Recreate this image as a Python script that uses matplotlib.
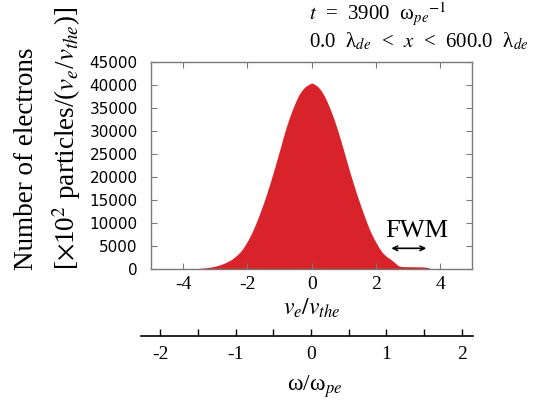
import matplotlib
matplotlib.use("Agg")
from matplotlib import pyplot as plt

plt.rcParams['mathtext.fontset'] = 'stix'

# electron velocity distribution
v_the = [-4.0, -3.9, -3.8, -3.7, -3.6, -3.5, -3.4, -3.3, -3.2, -3.1,
         -3.0, -2.9, -2.8, -2.7, -2.6, -2.5, -2.4, -2.3, -2.2, -2.1,
         -2.0, -1.9, -1.8, -1.7, -1.6, -1.5, -1.4, -1.3, -1.2, -1.1,
         -1.0, -0.9, -0.8, -0.7, -0.6, -0.5, -0.4, -0.3, -0.2, -0.1,
         0.0, 0.1, 0.2, 0.3, 0.4, 0.5, 0.6, 0.7, 0.8, 0.9,
         1.0, 1.1, 1.2, 1.3, 1.4, 1.5, 1.6, 1.7, 1.8, 1.9,
         2.0, 2.1, 2.2, 2.3, 2.4, 2.5, 2.6, 2.7, 2.8, 2.9,
         3.0, 3.1, 3.2, 3.3, 3.4, 3.5, 3.6, 3.7, 3.8, 3.9, 4.0]
electrons = [20, 30, 45, 70, 100, 140, 195, 265, 355, 475,
             630, 820, 1050, 1330, 1680, 2050, 2600, 3200, 3900, 4900,
             6050, 7350, 8900, 10550, 12400, 14310, 16400, 18600, 20900, 23300,
             25750, 28300, 30700, 32800, 34700, 36400, 37900, 38950, 39700, 40150,
             40500, 40200, 39650, 38800, 37600, 36100, 34400, 32500, 30400, 28100,
             25700, 23250, 20850, 18550, 16350, 14300, 12300, 10400, 8600, 7100,
             5800, 4600, 3600, 2900, 2400, 1900, 1300, 700, 540, 520,
             510, 500, 490, 480, 470, 440, 350, 100, 20, 0, 0]

v_ticks = [-4, -2, 0, 2, 4]
y_ticks = [0, 5000, 10000, 15000, 20000, 25000, 30000, 35000, 40000, 45000]
w_ticks = [-2, -1.5, -1, -0.5, 0, 0.5, 1, 1.5, 2]
w_labels = ['-2', '', '-1', '', '0', '', '1', '', '2']

serif = 'Liberation Serif'
red = '#d8232a'
frame = '#7a7a7a'

fig = plt.figure(figsize=(5.42, 4.07), dpi=100)

ax = fig.add_axes([0.2786, 0.339, 0.5928, 0.508])
ax.fill_between(v_the, electrons, color=red, lw=0)
ax.set_xlim(-5, 5)
ax.set_ylim(0, 45000)
ax.set_xticks(v_ticks)
ax.set_xticklabels([str(t) for t in v_ticks], family=serif, fontsize=14)
ax.set_yticks(y_ticks)
ax.set_yticklabels([str(t) for t in y_ticks], family='DejaVu Sans', fontsize=11)
ax.tick_params(direction='in', top=True, right=True, length=4, color=frame, width=0.8)
ax.tick_params(axis='x', pad=5)
ax.tick_params(axis='y', pad=9.5)
for s in ax.spines.values():
    s.set_color(frame)
    s.set_linewidth(1.0)

# FWM marker
ax.annotate('', xy=(2.48, 4510), xytext=(3.57, 4510),
            arrowprops=dict(arrowstyle='<->', color='black', lw=1.2,
                            mutation_scale=8, shrinkA=0, shrinkB=0))
ax.text(3.28, 7040, 'FWM', family=serif, fontsize=19, ha='center', va='baseline')

# second axis in omega / omega_pe
ax2 = fig.add_axes([0.260, 0.1744, 0.6125, 0.0001])
ax2.set_xlim(-2.26, 2.15)
ax2.set_yticks([])
ax2.set_xticks(w_ticks)
ax2.set_xticklabels(w_labels, family=serif, fontsize=14)
ax2.tick_params(axis='x', direction='in', length=5, width=1.0, pad=7)
for side in ['top', 'left', 'right']:
    ax2.spines[side].set_visible(False)
ax2.spines['bottom'].set_linewidth(1.2)
ax2.patch.set_visible(False)

# axis labels
fig.text(311.5 / 542, 1 - 308 / 407, r'$v_e/v_{the}$', fontsize=17,
         ha='center', va='center')
fig.text(315 / 542, 1 - 387 / 407, r'ω/ω$_{pe}$', family=serif, fontsize=17,
         ha='center', va='center')
fig.text(33 / 542, 1 - 270 / 407, 'Number of electrons', family=serif, fontsize=19.5,
         rotation=90, rotation_mode='anchor', ha='left', va='baseline')
fig.text(75 / 542, 1 - 270 / 407, r'[$\times$10$^2$ particles/($v_e$/$v_{the}$)]',
         family=serif, fontsize=19.5,
         rotation=90, rotation_mode='anchor', ha='left', va='baseline')

# run info
fig.text(309 / 542, 1 - 20.5 / 407, r'$t$  =  3900  ω$_{pe}$$^{-1}$', family=serif,
         fontsize=15, ha='left', va='baseline')
fig.text(309 / 542, 1 - 47 / 407, r'0.0  λ$_{de}$  <  $x$  <  600.0  λ$_{de}$',
         family=serif, fontsize=15, ha='left', va='baseline')

fig.savefig('out.png', dpi=100)
